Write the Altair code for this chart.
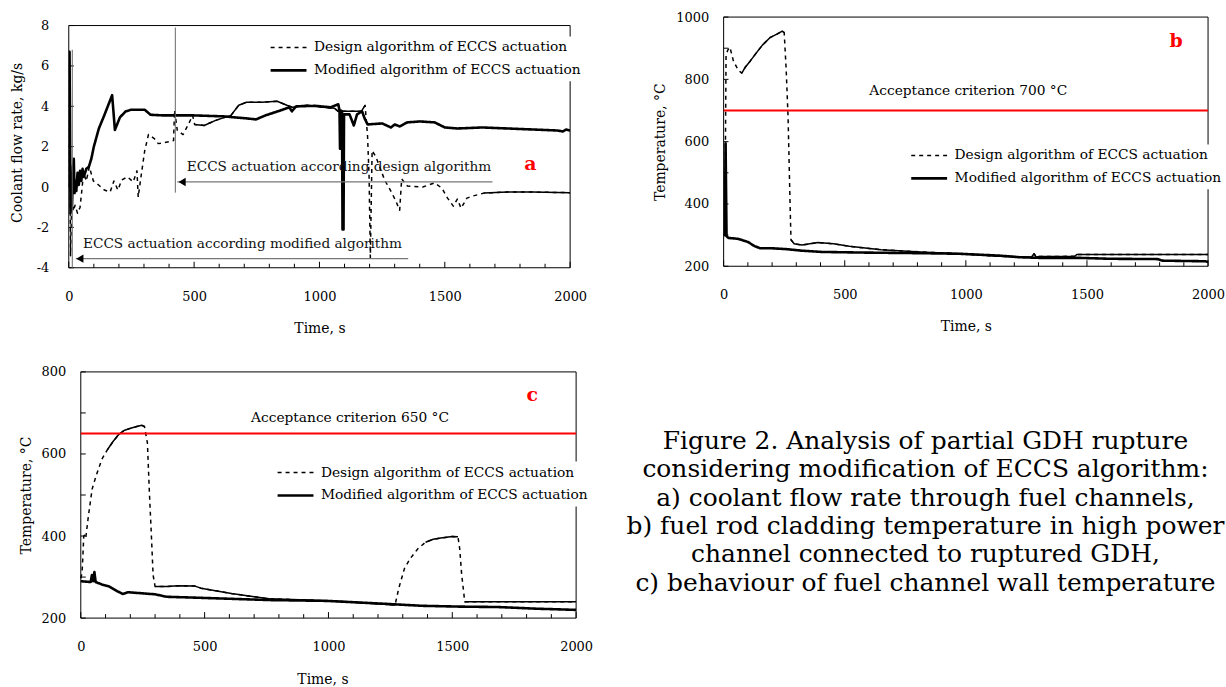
import altair as alt
import pandas as pd

FONT = "DejaVu Serif"
DESIGN = "Design algorithm of ECCS actuation"
MODIFIED = "Modified algorithm of ECCS actuation"
X_LABELS = [0, 500, 1000, 1500, 2000]
X_MINOR = [t for t in range(0, 2001, 100) if t % 500]

# ---------------- panel a : coolant flow rate ----------------
a_design_t = [0, 3, 7, 12, 18, 25, 35, 45, 51, 59, 70, 82, 98, 119, 142, 165, 180, 196, 211, 234,
              257, 272, 277, 288, 303, 318, 341, 357, 403, 418, 422, 433, 456, 479, 494, 502, 540, 586, 647, 678,
              709, 770, 831, 870, 892, 953, 1014, 1060, 1075, 1106, 1167, 1182, 1192, 1198, 1203, 1210, 1225, 1260, 1289, 1305,
              1320, 1328, 1351, 1412, 1459, 1488, 1511, 1534, 1550, 1565, 1588, 1611, 1657, 1750, 1850, 2000]
a_design_v = [0.0, 6.3, -3.4, -0.5, -1.2, -0.9, -1.3, -1.0, -0.3, 0.7, 0.3, 1.0, 0.3, 0.1, -0.15, -0.25, 0.3, -0.15, 0.35, 0.5,
              0.25, 0.8, -0.5, 0.5, 1.8, 2.6, 2.4, 2.15, 2.25, 2.3, 3.8, 2.8, 2.6, 3.15, 3.55, 3.1, 3.05, 3.3, 3.55, 4.05,
              4.2, 4.2, 4.25, 4.05, 3.95, 4.05, 3.95, 3.9, 3.75, 3.75, 3.75, 4.05, 2.5, 0.5, -3.5, 1.8, 1.5, 0.35, -0.3, -0.7,
              -1.15, 0.4, 0.05, 0.0, 0.2, -0.05, -0.55, -0.95, -0.6, -1.05, -0.55, -0.45, -0.3, -0.25, -0.25, -0.28]
a_mod_t = [0, 3, 7, 10, 13, 17, 20, 23, 27, 30, 35, 40, 45, 50, 55, 60, 70, 80, 90, 100,
           120, 140, 173, 184, 204, 227, 250, 303, 326, 372, 494, 617, 709, 747, 785, 846, 880, 890, 907, 984,
           1045, 1075, 1080, 1082, 1084, 1090, 1092, 1096, 1098, 1120, 1137, 1150, 1170, 1180, 1192, 1250, 1285, 1300, 1320, 1350,
           1400, 1460, 1500, 1550, 1650, 1750, 1850, 1950, 1970, 1985, 2000]
a_mod_v = [0.0, 6.7, -1.3, 0.3, -0.9, 1.0, 1.4, -0.3, 0.3, -0.2, 0.7, 0.1, 0.8, 0.3, 0.9, 0.5, 0.9, 1.0, 1.4, 2.0,
           2.9, 3.5, 4.55, 2.83, 3.45, 3.75, 3.83, 3.83, 3.58, 3.55, 3.55, 3.5, 3.4, 3.35, 3.55, 3.8, 3.95, 3.75, 4.0, 4.02,
           3.95, 4.1, 3.8, 1.9, 3.8, 3.75, -2.1, -2.1, 3.6, 3.6, 3.05, 3.6, 3.75, 3.4, 3.1, 3.15, 2.95, 3.1, 3.0, 3.2,
           3.25, 3.2, 2.95, 2.9, 2.95, 2.9, 2.85, 2.8, 2.75, 2.85, 2.8]
a_solid = [(502, 1182), (1657, 2000)]
a_y_labels = [-4, -2, 0, 2, 4, 6, 8]
a_vline_t = [425, 14]
a_vline_top = [7.9, 6.8]
a_vline_bot = [-0.28, -4.0]
a_arrow_from = [1690, 1354]
a_arrow_to = [433, 28]
a_arrow_v = [0.25, -3.55]
a_head_t = [452, 44]
a_note_text = ["ECCS actuation according design algorithm", "ECCS actuation according modified algorithm"]
a_note_t = [1078, 693]
a_note_v = [1.0, -2.83]

# ---------------- panel b : cladding temperature ----------------
b_design_t = [0, 5, 10, 18, 26, 40, 60, 75, 90, 111, 135, 160, 193, 220, 242, 250, 258, 266, 274, 278,
              291, 323, 389, 454, 519, 650, 813, 977, 1140, 1270, 1282, 1290, 1303, 1450, 1458, 2000]
b_design_v = [300, 310, 880, 895, 903, 860, 830, 820, 840, 860, 885, 910, 935, 945, 955, 950, 835, 680, 410, 285,
              272, 268, 276, 272, 264, 253, 246, 240, 232, 229, 240, 230, 231, 232, 238, 238]
b_mod_t = [0, 5, 8, 12, 20, 60, 80, 100, 127, 150, 193, 258, 323, 405, 568, 813, 977, 1140, 1222, 1303,
           1466, 1597, 1793, 1810, 1989, 2000]
b_mod_v = [305, 300, 595, 296, 291, 288, 283, 278, 265, 258, 258, 255, 250, 246, 244, 242, 240, 234, 229, 227,
           227, 224, 223, 218, 216, 214]
b_solid = [(75, 250), (278, 2000)]
b_y_labels = [200, 400, 600, 800, 1000]
b_y_ticks = [300, 500, 700, 900]
b_criterion = 700
b_crit_label = "Acceptance criterion 700 °C"
b_crit_t, b_crit_v = 1010, 762

# ---------------- panel c : channel wall temperature ----------------
c_design_t = [0, 5, 8, 12, 15, 20, 31, 46, 62, 85, 108, 131, 154, 177, 208, 246, 257, 269, 277, 285,
              292, 300, 346, 392, 461, 485, 608, 700, 761, 915, 1069, 1223, 1269, 1284, 1307, 1330, 1361, 1392, 1423, 1453,
              1500, 1523, 1530, 1538, 1546, 1550, 2000]
c_design_v = [297, 310, 345, 400, 402, 395, 450, 515, 547, 587, 611, 631, 648, 658, 664, 670, 667, 627, 506, 402,
              305, 277, 277, 279, 278, 273, 260, 252, 247, 244, 240, 234, 232, 273, 321, 345, 369, 385, 392, 395,
              399, 398, 369, 305, 264, 240, 240]
c_mod_t = [0, 40, 45, 50, 55, 60, 85, 115, 146, 169, 192, 300, 346, 454, 608, 761, 992, 1223, 1377, 1530,
           1684, 1838, 2000]
c_mod_v = [290, 288, 305, 290, 312, 288, 282, 277, 266, 259, 263, 258, 252, 250, 247, 244, 242, 235, 230, 228,
           227, 223, 220]
c_solid = [(93, 257), (300, 1269), (1392, 1523), (1550, 2000)]
c_y_labels = [200, 400, 600, 800]
c_y_ticks = [300, 500, 700]
c_criterion = 650
c_crit_label = "Acceptance criterion 650 °C"
c_crit_t, c_crit_v = 1087, 688

caption_lines = [
    "Figure 2. Analysis of partial GDH rupture",
    "considering modification of ECCS algorithm:",
    "a) coolant flow rate through fuel channels,",
    "b) fuel rod cladding temperature in high power",
    "channel connected to ruptured GDH,",
    "c) behaviour of fuel channel wall temperature",
]


def lines_df(dt, dv, mt, mv):
    d = pd.DataFrame({"t": dt, "v": dv, "series": DESIGN})
    m = pd.DataFrame({"t": mt, "v": mv, "series": MODIFIED})
    df = pd.concat([d, m], ignore_index=True)
    df["i"] = range(len(df))
    return df


def solid_df(dt, dv, ranges):
    rows = []
    for k, (t0, t1) in enumerate(ranges):
        for i, (t, v) in enumerate(zip(dt, dv)):
            if t0 <= t <= t1:
                rows.append({"t": t, "v": v, "piece": k, "i": i})
    return pd.DataFrame(rows)


def make_panel(dt, dv, mt, mv, solid, W, H, xdom, ydom, frame_y, ylabels, yticks, ytitle,
               ylp, ytp, xlp, xtp, legx, legy, letter, letter_t, letter_v, extra_fn):
    xs = alt.Scale(domain=xdom, nice=False, zero=False)
    ys = alt.Scale(domain=ydom, nice=False, zero=False)
    xaxis = alt.Axis(values=X_LABELS, title="Time, s", labelPadding=xlp, titlePadding=xtp, format="d",
                     labelExpr="'' + datum.value", labelFlush=False, labelOverlap=False)
    yaxis = alt.Axis(values=ylabels, title=ytitle, labelPadding=ylp, titlePadding=ytp, format="d",
                     labelExpr="'' + datum.value", labelFlush=False, labelOverlap=False)
    Xp = alt.X("t:Q", scale=xs, axis=xaxis)
    Yp = alt.Y("v:Q", scale=ys, axis=yaxis)
    leg = alt.Legend(title=None, orient="none", legendX=legx, legendY=legy, symbolType="stroke",
                     symbolSize=1296, symbolStrokeColor="black", labelFont=FONT, labelFontSize=13.8,
                     labelColor="black", fillColor="white", padding=2, clipHeight=18, rowPadding=5,
                     labelOffset=6, labelLimit=400)
    frame = alt.Chart(pd.DataFrame({"t": [0], "t2": [2000], "v": [frame_y[0]], "v2": [frame_y[1]]})).mark_rect(
        fillOpacity=0, stroke="black", strokeWidth=1).encode(x=Xp, x2="t2:Q", y=Yp, y2="v2:Q")
    main = alt.Chart(lines_df(dt, dv, mt, mv)).mark_line(color="black", clip=True, strokeJoin="round").encode(
        x=Xp, y=Yp,
        strokeDash=alt.StrokeDash("series:N", scale=alt.Scale(domain=[DESIGN, MODIFIED], range=[[4, 4], [1, 0]]), legend=leg),
        strokeWidth=alt.StrokeWidth("series:N", scale=alt.Scale(domain=[DESIGN, MODIFIED], range=[1.5, 2.6]), legend=leg),
        order=alt.Order("i:Q"),
    )
    over = alt.Chart(solid_df(dt, dv, solid)).mark_line(color="black", strokeWidth=1.5, clip=True, strokeJoin="round").encode(
        x=Xp, y=Yp, detail="piece:N", order=alt.Order("i:Q"))
    xminor = alt.Chart(pd.DataFrame({"t": X_MINOR})).mark_rule(color="black").encode(
        x=Xp, y=alt.value(H), y2=alt.value(H - 4))
    xmajor = alt.Chart(pd.DataFrame({"t": X_LABELS})).mark_rule(color="black").encode(
        x=Xp, y=alt.value(H), y2=alt.value(H - 6))
    ytk = alt.Chart(pd.DataFrame({"v": list(ylabels) + list(yticks), "t": 0, "t2": 20})).mark_rule(color="black").encode(
        y=Yp, x=Xp, x2="t2:Q")
    let = alt.Chart(pd.DataFrame({"t": [letter_t], "v": [letter_v], "label": [letter]})).mark_text(
        color="#ff0000", font=FONT, fontSize=19, fontWeight="bold").encode(x=Xp, y=Yp, text="label:N")
    layers = [main, over, frame, xminor, xmajor, ytk] + extra_fn(Xp, Yp) + [let]
    return alt.layer(*layers).properties(width=W, height=H)


def extra_a(Xp, Yp):
    vl = alt.Chart(pd.DataFrame({"t": a_vline_t, "v": a_vline_top, "v2": a_vline_bot})).mark_rule(
        color="#666666", strokeWidth=1).encode(x=Xp, y=Yp, y2="v2:Q")
    ar = alt.Chart(pd.DataFrame({"t": a_arrow_from, "t2": a_arrow_to, "v": a_arrow_v})).mark_rule(
        color="#777777", strokeWidth=1.3).encode(x=Xp, x2="t2:Q", y=Yp)
    hd = alt.Chart(pd.DataFrame({"t": a_head_t, "v": a_arrow_v})).mark_point(
        shape="triangle-left", filled=True, color="black", size=70, opacity=1).encode(x=Xp, y=Yp)
    tx = alt.Chart(pd.DataFrame({"t": a_note_t, "v": a_note_v, "label": a_note_text})).mark_text(
        font=FONT, fontSize=13.7, color="#111111").encode(x=Xp, y=Yp, text="label:N")
    return [vl, ar, hd, tx]


def extra_crit(value, label, lt, lv):
    def fn(Xp, Yp):
        r = alt.Chart(pd.DataFrame({"v": [value], "t": [0], "t2": [2000]})).mark_rule(
            color="#ff0000", strokeWidth=2).encode(y=Yp, x=Xp, x2="t2:Q")
        t = alt.Chart(pd.DataFrame({"t": [lt], "v": [lv], "label": [label]})).mark_text(
            font=FONT, fontSize=13.8, color="black").encode(x=Xp, y=Yp, text="label:N")
        return [r, t]
    return fn


panel_a = make_panel(a_design_t, a_design_v, a_mod_t, a_mod_v, a_solid, 503, 251.5, [0, 2000], [-4, 8.42], [-4, 8],
                     a_y_labels, [], "Coolant flow rate, kg/s", 20, 12, 23, 18, 199, 19.5, "a", 1841, 1.14, extra_a)

panel_b = make_panel(b_design_t, b_design_v, b_mod_t, b_mod_v, b_solid, 486, 250, [0, 2000], [200, 1000], [200, 1000],
                     b_y_labels, b_y_ticks, "Temperature, °C", 15, 8, 22, 18, 184.7, 127.8, "b", 1868, 923,
                     extra_crit(b_criterion, b_crit_label, b_crit_t, b_crit_v))

panel_c = make_panel(c_design_t, c_design_v, c_mod_t, c_mod_v, c_solid, 509, 247, [-48.5, 2000], [200, 800], [200, 800],
                     c_y_labels, c_y_ticks, "Temperature, °C", 3, 8, 23, 19, 206, 90, "c", 1823, 744,
                     extra_crit(c_criterion, c_crit_label, c_crit_t, c_crit_v))

cap_df = pd.DataFrame({"line": list(range(len(caption_lines))), "label": caption_lines})
caption = alt.Chart(cap_df).mark_text(font=FONT, fontSize=25, color="black", align="center",
                                      baseline="middle", clip=True).encode(
    x=alt.value(321.5),
    y=alt.Y("line:Q", scale=alt.Scale(domain=[0, 5], range=[69.5, 211.5]), axis=None),
    text="label:N",
).properties(width=622, height=280)

RES = dict(strokeDash="independent", strokeWidth="independent")
row1 = alt.concat(panel_a, panel_b, columns=2, align="none", spacing=65).resolve_scale(**RES).resolve_legend(**RES)
row2 = alt.concat(panel_c, caption, columns=2, align="none", spacing=10).resolve_scale(**RES).resolve_legend(**RES)

chart = (
    alt.concat(row1, row2, columns=1, align="none", spacing=29)
    .resolve_scale(**RES)
    .resolve_legend(**RES)
    .properties(padding={"left": 9, "top": 9, "right": 0, "bottom": 0}, background="white")
    .configure_view(stroke="transparent")
    .configure_axis(labelFont=FONT, titleFont=FONT, labelFontSize=13, titleFontSize=14,
                    labelColor="black", titleColor="black", titleFontWeight="normal",
                    grid=False, ticks=False, tickSize=0, domain=False)
)

chart.save("out.html", embed_options={"renderer": "svg", "actions": False})
